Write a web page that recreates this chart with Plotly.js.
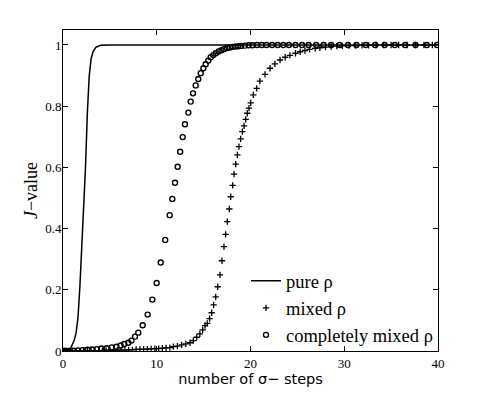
<!DOCTYPE html>
<html>
<head>
<meta charset="utf-8">
<script src="https://cdn.plot.ly/plotly-3.0.1.min.js"></script>
<style>
  html, body { margin: 0; padding: 0; background: #fff; }
  #plot { width: 485px; height: 394px; }
</style>
</head>
<body>
<div id="plot"></div>
<script>
// pure rho (solid line)
const pureX = [0, 0.5, 0.8, 1.0, 1.2, 1.4, 1.6, 1.8, 2.0, 2.2, 2.4, 2.6, 2.8, 3.0, 3.2, 3.5, 4.0, 5, 10, 20, 30, 40];
const pureY = [0, 0.002, 0.008, 0.02, 0.035, 0.06, 0.11, 0.21, 0.33, 0.46, 0.6, 0.78, 0.9, 0.955, 0.978, 0.992, 0.999, 1, 1, 1, 1, 1];

// mixed rho (plus markers)
const mixedX = [0, 0.2, 0.4, 0.7, 1.0, 1.4, 1.8, 2.2, 2.6, 3.0, 3.4, 3.8, 4.2, 4.6, 5.0, 5.4, 5.8, 6.2, 6.6, 7.0,
  7.4, 7.8, 8.2, 8.6, 9.0, 9.4, 9.8, 10.2, 10.6, 11.0, 11.4, 11.77, 12.2, 12.66, 13.1, 13.55, 13.9, 14.26, 14.6, 14.9,
  15.15, 15.39, 15.64, 15.86, 16.07, 16.29, 16.5, 16.75, 16.96, 17.17, 17.35, 17.53, 17.74, 17.89, 18.1, 18.24, 18.42, 18.6, 18.77, 18.95,
  19.13, 19.31, 19.49, 19.66, 19.84, 20.02, 20.3, 20.66, 21.0, 21.55, 22.08, 22.6, 23.15, 23.7, 24.2, 24.8, 25.3, 25.8, 26.3, 26.9,
  27.4, 28.0, 28.6, 29.2, 29.8, 30.5, 31.2, 31.9, 32.6, 33.4, 34.2, 35.0, 35.8, 36.7, 37.6, 38.5, 39.4];
const mixedY = [0, 0, 0, 0, 0, 0, 0, 0, 0.001, 0.001, 0.001, 0.001, 0.002, 0.002, 0.002, 0.002, 0.003, 0.003, 0.003, 0.004,
  0.004, 0.005, 0.005, 0.006, 0.006, 0.007, 0.008, 0.008, 0.009, 0.01, 0.011, 0.014, 0.016, 0.02, 0.023, 0.027, 0.034, 0.045, 0.056, 0.069,
  0.083, 0.09, 0.106, 0.125, 0.151, 0.177, 0.21, 0.249, 0.295, 0.341, 0.381, 0.423, 0.464, 0.504, 0.541, 0.578, 0.611, 0.641, 0.668, 0.693,
  0.717, 0.736, 0.757, 0.777, 0.794, 0.811, 0.837, 0.858, 0.882, 0.904, 0.924, 0.938, 0.951, 0.96, 0.966, 0.973, 0.978, 0.982, 0.986, 0.989,
  0.991, 0.993, 0.995, 0.996, 0.997, 0.998, 0.998, 0.999, 0.999, 1, 1, 1, 1, 1, 1, 1, 1];

// completely mixed rho (open circles)
const cmixX = [0, 0.15, 0.3, 0.6, 1.1, 1.6, 2.1, 2.6, 3.1, 3.6, 4.1, 4.66, 5.2, 5.7, 6.15, 6.54, 6.97, 7.3, 7.68, 8.03,
  8.5, 9.03, 9.53, 9.99, 10.42, 10.9, 11.38, 11.66, 11.95, 12.23, 12.5, 12.77, 13.01, 13.37, 13.62, 13.87, 14.15, 14.43, 14.69, 14.97,
  15.22, 15.5, 15.75, 16.03, 16.3, 16.6, 16.9, 17.2, 17.5, 17.8, 18.1, 18.4, 18.7, 19.0, 19.4, 19.8, 20.2, 20.7, 21.2, 21.7,
  22.3, 22.9, 23.5, 24.1, 24.8, 25.5, 26.2, 27.0, 27.8, 28.6, 29.5, 30.4, 31.3, 32.3, 33.3, 34.3, 35.4, 36.5, 37.6, 38.8, 39.9];
const cmixY = [0, 0, 0, 0, 0.001, 0.002, 0.003, 0.004, 0.005, 0.006, 0.008, 0.009, 0.012, 0.014, 0.018, 0.023, 0.027, 0.034, 0.047, 0.06,
  0.084, 0.119, 0.168, 0.222, 0.289, 0.363, 0.444, 0.497, 0.55, 0.602, 0.651, 0.699, 0.741, 0.779, 0.815, 0.842, 0.868, 0.889, 0.908, 0.924,
  0.937, 0.949, 0.96, 0.967, 0.973, 0.979, 0.983, 0.987, 0.99, 0.992, 0.994, 0.995, 0.996, 0.997, 0.998, 0.999, 0.999, 1, 1, 1,
  1, 1, 1, 1, 1, 1, 1, 1, 1, 1, 1, 1, 1, 1, 1, 1, 1, 1, 1, 1, 1];

const serif = "Liberation Serif, Times New Roman, serif";

const traces = [
  { x: pureX, y: pureY, mode: "lines", name: "pure ρ", line: { color: "black", width: 1.5 } },
  { x: mixedX, y: mixedY, mode: "markers", name: "mixed ρ",
    marker: { symbol: "cross-thin", size: 4.5, color: "black", line: { color: "black", width: 1.3 } } },
  { x: cmixX, y: cmixY, mode: "markers", name: "completely mixed ρ",
    marker: { symbol: "circle-open", size: 5, color: "black", line: { color: "black", width: 1.4 } } }
];

const axisCommon = {
  showline: true, linecolor: "black", linewidth: 1, mirror: "ticks",
  ticks: "inside", ticklen: 5, tickcolor: "black", tickwidth: 1,
  showgrid: false, zeroline: false,
  tickfont: { family: serif, size: 13, color: "black" }
};

const layout = {
  width: 485, height: 394,
  margin: { l: 63, r: 47, t: 30, b: 43 },
  paper_bgcolor: "white", plot_bgcolor: "white",
  showlegend: true,
  legend: {
    x: 0.488, y: -0.01, xanchor: "left", yanchor: "bottom",
    bgcolor: "rgba(0,0,0,0)", borderwidth: 0,
    font: { family: serif, size: 18.5, color: "black" },
    itemwidth: 30, tracegroupgap: 0
  },
  xaxis: Object.assign({}, axisCommon, {
    range: [0, 40], tickvals: [0, 10, 20, 30, 40],
    title: { text: "number of σ− steps", standoff: 4,
      font: { family: "DejaVu Sans, sans-serif", size: 14.5, color: "black" } }
  }),
  yaxis: Object.assign({}, axisCommon, {
    range: [0, 1.049], tickvals: [0, 0.2, 0.4, 0.6, 0.8, 1],
    ticktext: ["0", "0.2", "0.4", "0.6", "0.8", "1"],
    ticklabelstandoff: -2,
    title: { text: "<i>J</i>−value", standoff: 2,
      font: { family: serif, size: 18, color: "black" } }
  })
};

Plotly.newPlot("plot", traces, layout, { staticPlot: true });
</script>
</body>
</html>
